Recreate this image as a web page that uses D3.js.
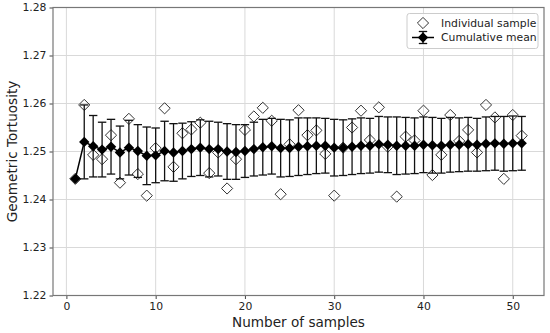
<!DOCTYPE html>
<html>
<head>
<meta charset="utf-8">
<script src="https://cdn.jsdelivr.net/npm/d3@7.9.0/dist/d3.min.js"></script>
<style>
  body { margin: 0; background: #fff; }
  svg { display: block; font-family: "DejaVu Sans", sans-serif; }
</style>
</head>
<body>
<svg id="chart" width="550" height="333"></svg>
<script>
// sample index 1..51
const sampleNumbers = d3.range(1, 52);

// individual sample tortuosity
const individual = [
  1.2443, 1.2597, 1.2493, 1.2484, 1.2534, 1.2435, 1.2568, 1.2453, 1.2408, 1.2507,
  1.2590, 1.2468, 1.2538, 1.2546, 1.2560, 1.2455, 1.2498, 1.2423, 1.2484, 1.2545,
  1.2573, 1.2591, 1.2564, 1.2411, 1.2515, 1.2586, 1.2534, 1.2544, 1.2495, 1.2408,
  1.2508, 1.2550, 1.2585, 1.2524, 1.2592, 1.2510, 1.2406, 1.2531, 1.2523, 1.2585,
  1.2451, 1.2493, 1.2576, 1.2522, 1.2545, 1.2498, 1.2597, 1.2571, 1.2443, 1.2576,
  1.2533
];

// cumulative mean and its spread
const cumMean = [
  1.2443, 1.2520, 1.2511, 1.2504, 1.2510, 1.2498, 1.2508, 1.2501, 1.2491, 1.2492,
  1.2501, 1.2498, 1.2501, 1.2505, 1.2508, 1.2505, 1.2505, 1.2500, 1.2499, 1.2501,
  1.2505, 1.2509, 1.2511, 1.2507, 1.2507, 1.2510, 1.2511, 1.2512, 1.2512, 1.2508,
  1.2508, 1.2510, 1.2512, 1.2512, 1.2515, 1.2514, 1.2512, 1.2512, 1.2512, 1.2514,
  1.2513, 1.2512, 1.2514, 1.2514, 1.2515, 1.2514, 1.2516, 1.2517, 1.2516, 1.2517,
  1.2517
];
const cumStd = [
  0.0000, 0.0077, 0.0064, 0.0057, 0.0057, 0.0055, 0.0057, 0.0055, 0.0060, 0.0057,
  0.0062, 0.0060, 0.0058, 0.0057, 0.0058, 0.0058, 0.0056, 0.0058, 0.0057, 0.0055,
  0.0056, 0.0058, 0.0058, 0.0060, 0.0059, 0.0060, 0.0059, 0.0058, 0.0057, 0.0059,
  0.0058, 0.0058, 0.0058, 0.0057, 0.0058, 0.0058, 0.0060, 0.0059, 0.0058, 0.0058,
  0.0058, 0.0057, 0.0057, 0.0056, 0.0056, 0.0055, 0.0056, 0.0056, 0.0057, 0.0057,
  0.0056
];

const xTicks = [0, 10, 20, 30, 40, 50];
const yTicks = [1.22, 1.23, 1.24, 1.25, 1.26, 1.27, 1.28];

const svg = d3.select('#chart');
const pLeft = 53, pRight = 544, pTop = 7.5, pBottom = 295.5;

const x = d3.scaleLinear().domain([-1.5, 53.5]).range([pLeft, pRight]);
const y = d3.scaleLinear().domain([1.22, 1.28]).range([pBottom, pTop]);

const diamond = (r) => `M0,${-r}L${r},0L0,${r}L${-r},0Z`;

// grid
svg.append('g')
  .selectAll('line')
  .data(xTicks)
  .join('line')
  .attr('x1', d => x(d)).attr('x2', d => x(d))
  .attr('y1', pTop).attr('y2', pBottom)
  .attr('stroke', '#d9d9d9').attr('stroke-width', 1);
svg.append('g')
  .selectAll('line')
  .data(yTicks)
  .join('line')
  .attr('x1', pLeft).attr('x2', pRight)
  .attr('y1', d => y(d)).attr('y2', d => y(d))
  .attr('stroke', '#d9d9d9').attr('stroke-width', 1);

// axes
const xAxis = svg.append('g')
  .attr('transform', `translate(0,${pBottom})`)
  .call(d3.axisBottom(x).tickValues(xTicks).tickSize(3.5).tickPadding(3));
const yAxis = svg.append('g')
  .attr('transform', `translate(${pLeft},0)`)
  .call(d3.axisLeft(y).tickValues(yTicks).tickFormat(d3.format('.2f')).tickSize(3.5).tickPadding(3));
[xAxis, yAxis].forEach(g => {
  g.select('.domain').remove();
  g.selectAll('.tick line').attr('stroke', '#444');
  g.selectAll('.tick text')
    .attr('fill', '#222')
    .style('font-family', '"DejaVu Sans", sans-serif')
    .style('font-size', '10.8px');
});

// individual samples
svg.append('g')
  .selectAll('path')
  .data(sampleNumbers)
  .join('path')
  .attr('transform', (d, i) => `translate(${x(d)},${y(individual[i])})`)
  .attr('d', diamond(5.6))
  .attr('fill', 'none')
  .attr('stroke', '#333')
  .attr('stroke-width', 1);

// error bars
const eb = svg.append('g').attr('stroke', '#111').attr('stroke-width', 1.3);
sampleNumbers.forEach((n, i) => {
  const cx = x(n), lo = y(cumMean[i] - cumStd[i]), hi = y(cumMean[i] + cumStd[i]);
  eb.append('line').attr('x1', cx).attr('x2', cx).attr('y1', lo).attr('y2', hi);
  eb.append('line').attr('x1', cx - 4.2).attr('x2', cx + 4.2).attr('y1', lo).attr('y2', lo);
  eb.append('line').attr('x1', cx - 4.2).attr('x2', cx + 4.2).attr('y1', hi).attr('y2', hi);
});

// cumulative mean line and markers
svg.append('path')
  .datum(sampleNumbers)
  .attr('d', d3.line().x(d => x(d)).y((d, i) => y(cumMean[i])))
  .attr('fill', 'none')
  .attr('stroke', '#000')
  .attr('stroke-width', 1.5);
svg.append('g')
  .selectAll('path')
  .data(sampleNumbers)
  .join('path')
  .attr('transform', (d, i) => `translate(${x(d)},${y(cumMean[i])})`)
  .attr('d', diamond(5.2))
  .attr('fill', '#000');

// frame
svg.append('rect')
  .attr('x', pLeft).attr('y', pTop)
  .attr('width', pRight - pLeft).attr('height', pBottom - pTop)
  .attr('fill', 'none').attr('stroke', '#777').attr('stroke-width', 1.2);

// axis labels
svg.append('text')
  .attr('x', (pLeft + pRight) / 2).attr('y', 326.5)
  .attr('text-anchor', 'middle')
  .attr('fill', '#222')
  .style('font-size', '13.6px')
  .text('Number of samples');
svg.append('text')
  .attr('transform', `translate(17.3,${(pTop + pBottom) / 2}) rotate(-90)`)
  .attr('text-anchor', 'middle')
  .attr('fill', '#222')
  .style('font-size', '13.6px')
  .text('Geometric Tortuosity');

// legend
const lg = svg.append('g');
lg.append('rect')
  .attr('x', 407).attr('y', 13.5).attr('width', 131).attr('height', 35)
  .attr('rx', 2.5)
  .attr('fill', '#fff').attr('fill-opacity', 0.8)
  .attr('stroke', '#ccc');
const hx = 423;
lg.append('path')
  .attr('transform', `translate(${hx},23)`)
  .attr('d', diamond(5.6))
  .attr('fill', 'none').attr('stroke', '#333');
lg.append('line')
  .attr('x1', hx - 11).attr('x2', hx + 11).attr('y1', 37.5).attr('y2', 37.5)
  .attr('stroke', '#000').attr('stroke-width', 1.5);
lg.append('line')
  .attr('x1', hx).attr('x2', hx).attr('y1', 31.5).attr('y2', 43.5)
  .attr('stroke', '#111').attr('stroke-width', 1.3);
[31.5, 43.5].forEach(cy => lg.append('line')
  .attr('x1', hx - 4.2).attr('x2', hx + 4.2).attr('y1', cy).attr('y2', cy)
  .attr('stroke', '#111').attr('stroke-width', 1.3));
lg.append('path')
  .attr('transform', `translate(${hx},37.5)`)
  .attr('d', diamond(5.2))
  .attr('fill', '#000');
lg.selectAll('text')
  .data(['Individual sample', 'Cumulative mean'])
  .join('text')
  .attr('x', 441).attr('y', (d, i) => 26.9 + i * 14.3)
  .attr('fill', '#222')
  .style('font-size', '10.8px')
  .text(d => d);
</script>
</body>
</html>
